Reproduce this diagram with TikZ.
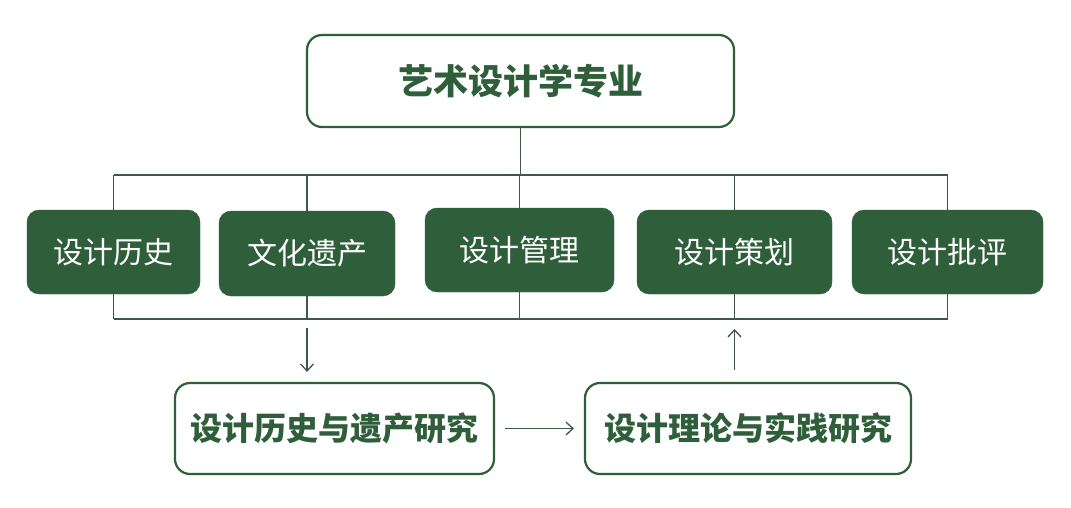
\documentclass[tikz,border=0pt]{standalone}
\usepackage{fontspec}
\newfontfamily\cjk{Noto Sans CJK SC}
\usetikzlibrary{arrows.meta}
\definecolor{dg}{HTML}{2F5F3A}
\definecolor{cl}{HTML}{3E5846}
\tikzset{
  gbox/.style={rounded corners=12pt, fill=dg, draw=dg, text=white, font=\cjk\fontsize{30}{33}\selectfont, minimum height=84pt, inner sep=0pt},
  obox/.style={rounded corners=15pt, draw=dg, line width=2.2pt, fill=white, text=dg, font=\cjk\bfseries\fontsize{32}{35}\selectfont, minimum height=91pt, inner sep=0pt},
  conn/.style={draw=cl, line width=1.3pt},
  arr/.style={draw=cl, line width=1.3pt, -{Straight Barb[length=7pt,width=13pt,line width=1.3pt]}}
}
\begin{document}
\begin{tikzpicture}[x=1pt,y=-1pt]
\useasboundingbox[fill=white] (0,0) rectangle (1071,508);
\node[obox, minimum width=427pt, minimum height=92pt, font=\cjk\bfseries\fontsize{35}{38}\selectfont] (top) at (520.5,81) {艺术设计学专业};
\node[gbox, minimum width=173pt] (g1) at (113.5,252) {设计历史};
\node[gbox, minimum width=176pt, minimum height=85pt] (g2) at (307,253.5) {文化遗产};
\node[gbox, minimum width=189pt] (g3) at (519.5,250) {设计管理};
\node[gbox, minimum width=195pt] (g4) at (734.5,252) {设计策划};
\node[gbox, minimum width=191pt] (g5) at (947.5,252) {设计批评};
\node[obox, minimum width=319pt] (bl) at (334.5,428.5) {设计历史与遗产研究};
\node[obox, minimum width=326pt] (br) at (748,428.5) {设计理论与实践研究};
\coordinate (tbus) at (0,175);
\coordinate (bbus) at (0,319);
\coordinate (astart) at (0,328);
\coordinate (aend) at (0,329);
% top bus
\draw[conn] (g1.north |- tbus) -- (g5.north |- tbus);
\draw[conn] (top.south) -- (top.south |- tbus);
\foreach \n in {g1,g2,g3,g4,g5} {
  \draw[conn] (\n.north |- tbus) -- (\n.north);
  \draw[conn] (\n.south) -- (\n.south |- bbus);
}
% bottom bus
\draw[conn] (g1.south |- bbus) -- (g5.south |- bbus);
% arrows
\draw[arr, shorten >=10pt] (g2.south |- astart) -- (g2.south |- bl.north);
\draw[arr, shorten <=12pt] (g4.south |- br.north) -- (g4.south |- aend);
\draw[arr, shorten <=10pt, shorten >=10pt] (bl.east) -- (br.west);
\end{tikzpicture}
\end{document}
